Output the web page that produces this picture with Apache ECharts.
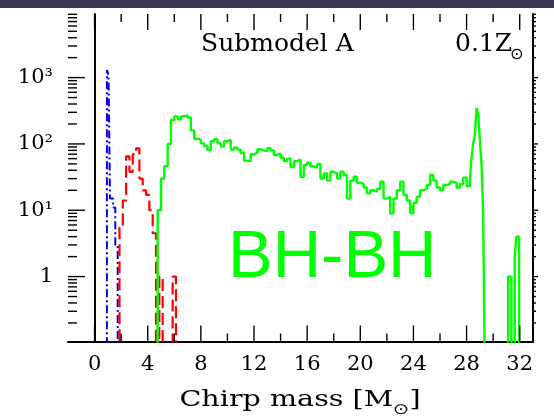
<!DOCTYPE html>
<html><head><meta charset="utf-8">
<script src="https://cdn.jsdelivr.net/npm/echarts@6/dist/echarts.min.js"></script>
<style>html,body{margin:0;padding:0;background:#fff}#c{width:554px;height:420px}</style>
</head><body><div id="c"></div>
<script>
// ---------- data ----------
const FLOOR = 0.01;            // stands for an empty bin (below the log axis)
const X_MIN = -2, X_MAX = 33;
const Y_MIN = 0.105, Y_MAX = 9100;

const xTickValues = [0, 4, 8, 12, 16, 20, 24, 28, 32];
const xMinorTickValues = [2, 6, 10, 14, 18, 22, 26, 30];
const yTickValues = [1, 10, 100, 1000];
const yTickLabels = ['1', '10\u00b9', '10\u00b2', '10\u00b3'];
const yDecades = [0.1, 1, 10, 100, 1000];
const yMinorMult = [2, 3, 4, 5, 6, 7, 8, 9];

// blue dash-dot histogram (explicit bin edges)
const blueEdges = [0.93, 1.05, 1.16, 1.40, 1.56, 1.74];
const blueValues = [1300, 1100, 15, 11, 3];

// red dashed histogram (bins of 0.25 from 1.875)
const redStart = 1.875, redWidth = 0.25;
const redValues = [5.5, 14, 65, 38, 70, 86, 30, 20, 17, 10, 4.5, 0, 1, 0, 0, 0, 1];

// green solid histogram, main part (bins of 0.25 from 4.75)
const greenStart = 4.75, greenWidth = 0.25;
const greenValues = [
  10, 30, 46, 100, 230, 260, 235, 260, 270, 250,
  160, 120, 115, 102, 93, 81, 110, 118, 102, 92,
  110, 115, 82, 88, 82, 73, 56, 55, 70, 73,
  83, 80, 78, 86, 80, 68, 72, 62, 55, 60,
  45, 55, 58, 32, 48, 52, 46, 44, 50, 30,
  36, 28, 38, 36, 30, 38, 34, 15, 28, 32,
  26, 25, 22, 18, 20, 19, 21, 27, 15, 16,
  9, 15, 20, 27, 17, 14, 9, 13, 16, 20,
  21, 24, 34, 28, 22, 20, 24, 25, 27, 26,
  22, 25, 31, 23
];
// green peak near 29 (finer bins, continues the main part)
const greenTailEdges = [28.25, 28.375, 28.5, 28.625, 28.75, 28.875, 29.0, 29.125, 29.25, 29.4];
const greenTailValues = [28, 62, 103, 137, 350, 275, 115, 50, 8.5];
// isolated green bins above 31
const greenSpikeEdges = [31.125, 31.375, 31.625, 31.75, 31.95];
const greenSpikeValues = [1, 0, 2, 4];

// ---------- helpers ----------
function uniformEdges(start, width, n) {
  const e = [];
  for (let i = 0; i <= n; i++) e.push(+(start + i * width).toFixed(4));
  return e;
}
function stepPoints(edges, values) {
  const pts = [[edges[0], FLOOR]];
  values.forEach((v, i) => pts.push([edges[i], v > 0 ? v : FLOOR]));
  pts.push([edges[values.length], FLOOR]);
  return pts;
}
const bluePts = stepPoints(blueEdges, blueValues);
const redPts = stepPoints(uniformEdges(redStart, redWidth, redValues.length), redValues);
const greenAllEdges = uniformEdges(greenStart, greenWidth, greenValues.length).concat(greenTailEdges.slice(1));
const greenAllValues = greenValues.concat(greenTailValues);
const greenPts = stepPoints(greenAllEdges, greenAllValues)
  .concat(stepPoints(greenSpikeEdges, greenSpikeValues));

// tick marks: [x, y, kind]
const TICK = {
  0: [0, -16], 1: [0, -8],   // bottom major / minor
  2: [0, 16], 3: [0, 8],     // top major / minor
  4: [17, 0], 5: [9, 0],     // left major / minor
  6: [5, 0], 7: [3, 0]       // right (outward)
};
const tickItems = [];
xTickValues.forEach(v => { tickItems.push([v, Y_MIN, 0]); tickItems.push([v, Y_MAX, 2]); });
xMinorTickValues.forEach(v => { tickItems.push([v, Y_MIN, 1]); tickItems.push([v, Y_MAX, 3]); });
yDecades.forEach(d => {
  if (d >= Y_MIN && d <= Y_MAX) { tickItems.push([X_MIN, d, 4]); tickItems.push([X_MAX, d, 6]); }
  yMinorMult.forEach(m => {
    const v = d * m;
    if (v > Y_MIN && v < Y_MAX) { tickItems.push([X_MIN, v, 5]); tickItems.push([X_MAX, v, 7]); }
  });
});

const SERIF = '"DejaVu Serif", serif';

// measure for composed title
const mctx = document.createElement('canvas').getContext('2d');
function tw(txt, font) { mctx.font = font; return mctx.measureText(txt).width; }

const chart = echarts.init(document.getElementById('c'), null, { renderer: 'canvas' });

const titleFont = '22px ' + SERIF;
const sunFont = '15px "DejaVu Sans"';
const tScale = 1.3;
const w1 = tw('Chirp mass [M', titleFont) * tScale;
const w2 = tw('\u2299', sunFont) * tScale;
const w3 = tw(']', titleFont) * tScale;
const tStart = 300 - (w1 + w2 + w3) / 2;

chart.setOption({
  animation: false,
  backgroundColor: '#ffffff',
  grid: { left: 68, right: 21, top: 14, bottom: 78.5, containLabel: false, outerBoundsMode: 'none' },
  xAxis: [{
    type: 'value', min: X_MIN, max: X_MAX, interval: 2,
    axisLine: { show: true, lineStyle: { color: '#000', width: 2 } },
    axisTick: { show: false }, splitLine: { show: false },
    axisLabel: {
      margin: 13, color: '#000', fontSize: 21, fontFamily: SERIF,
      formatter: v => (xTickValues.indexOf(v) >= 0 ? String(v) : '')
    }
  }],
  yAxis: [{
    type: 'log', logBase: 10, min: Y_MIN, max: Y_MAX,
    axisLine: { show: true, lineStyle: { color: '#000', width: 2 } },
    axisTick: { show: false }, splitLine: { show: false }, minorTick: { show: false },
    axisLabel: {
      margin: 15, color: '#000', fontSize: 21, fontFamily: SERIF,
      formatter: v => {
        for (let i = 0; i < yTickValues.length; i++) {
          if (Math.abs(v - yTickValues[i]) / yTickValues[i] < 1e-6) return yTickLabels[i];
        }
        return '';
      }
    }
  }, {
    type: 'log', logBase: 10, min: Y_MIN, max: Y_MAX, position: 'right',
    axisLine: { show: true, lineStyle: { color: '#000', width: 2 } },
    axisTick: { show: false }, splitLine: { show: false }, axisLabel: { show: false }
  }],
  graphic: [
    { type: 'rect', shape: { x: 0, y: 0, width: 554, height: 8 }, style: { fill: '#3a3a58' }, silent: true },
    { type: 'text', x: 201, y: 44.5, style: { text: 'Submodel A', font: '25px ' + SERIF, fill: '#000', verticalAlign: 'middle', align: 'left' } },
    { type: 'text', x: 455, y: 44.5, style: { text: '0.1Z', font: '25px ' + SERIF, fill: '#000', verticalAlign: 'middle', align: 'left' } },
    { type: 'text', x: 510, y: 55, style: { text: '\u2299', font: '16px "DejaVu Sans"', fill: '#000', verticalAlign: 'middle', align: 'left' } },
    { type: 'text', x: 228, y: 259, style: { text: 'BH-BH', font: '67px "Liberation Sans"', fill: '#00ff00', verticalAlign: 'middle', align: 'left' } },
    { type: 'text', x: tStart, y: 400, scaleX: tScale, style: { text: 'Chirp mass [M', font: titleFont, fill: '#000', verticalAlign: 'middle', align: 'left' } },
    { type: 'text', x: tStart + w1, y: 410, scaleX: tScale, style: { text: '\u2299', font: sunFont, fill: '#000', verticalAlign: 'middle', align: 'left' } },
    { type: 'text', x: tStart + w1 + w2, y: 400, scaleX: tScale, style: { text: ']', font: titleFont, fill: '#000', verticalAlign: 'middle', align: 'left' } }
  ],
  series: [
    {
      name: 'ticks', type: 'custom', silent: true, clip: false, z: 5,
      data: tickItems, encode: { x: 0, y: 1 },
      renderItem: (params, api) => {
        const p = api.coord([api.value(0), api.value(1)]);
        const d = TICK[api.value(2)];
        return { type: 'line', shape: { x1: p[0], y1: p[1], x2: p[0] + d[0], y2: p[1] + d[1] },
                 style: { stroke: '#000', lineWidth: 1.4 } };
      }
    },
    { name: 'blue', type: 'line', step: 'end', data: bluePts, symbol: 'none', clip: true,
      lineStyle: { color: '#0000ff', width: 2, type: [8, 3, 2, 3] } },
    { name: 'red', type: 'line', step: 'end', data: redPts, symbol: 'none', clip: true,
      lineStyle: { color: '#ff0000', width: 2.2, type: [12, 5] } },
    { name: 'green', type: 'line', step: 'end', data: greenPts, symbol: 'none', clip: true,
      lineStyle: { color: '#00ff00', width: 2.4 } }
  ]
});
</script>
</body></html>
